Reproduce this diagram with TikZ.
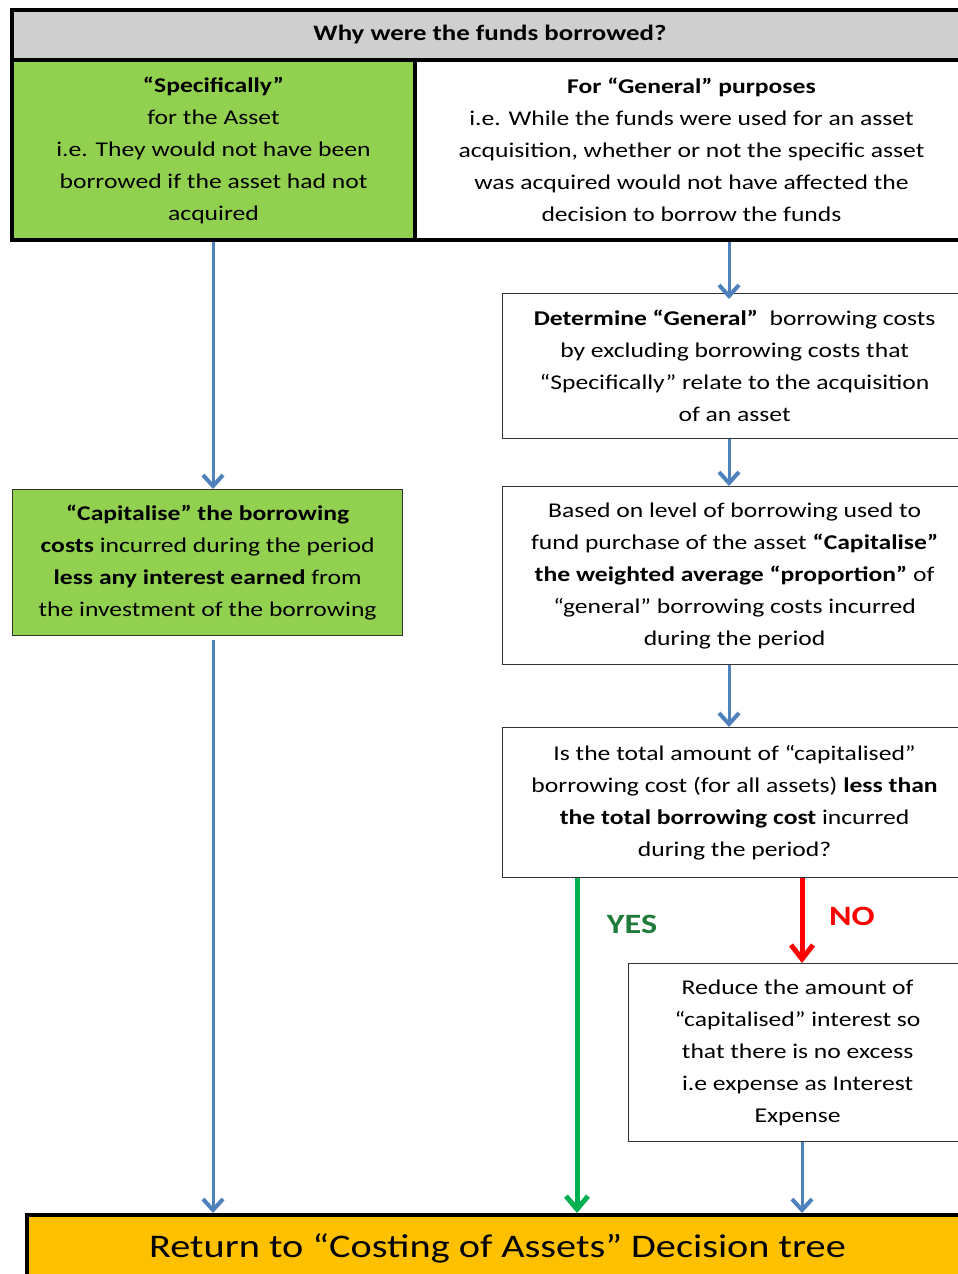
\documentclass[tikz,border=0pt]{standalone}
\usepackage{fontspec}
\setmainfont{Carlito}[FakeStretch=1.22]
\usetikzlibrary{arrows.meta}
\definecolor{gfill}{HTML}{92D050}
\definecolor{hgray}{HTML}{CFCFCF}
\definecolor{ablue}{HTML}{4F81BD}
\definecolor{agreen}{HTML}{00B050}
\definecolor{ygreen}{HTML}{1E7B3A}
\definecolor{ared}{HTML}{FF0000}
\definecolor{ofill}{HTML}{FFC000}
\begin{document}
\begin{tikzpicture}[x=1pt,y=-1pt,
  base/.style={inner sep=0pt, anchor=north west, align=center, font=\fontsize{21}{32}\selectfont},
  thickbox/.style={base, draw=black, line width=4pt},
  thinbox/.style={base, draw=black!80, line width=1.2pt},
  bluearrow/.style={draw=ablue, line width=3pt, -{Straight Barb[length=11pt,width=20pt,line width=4pt]}},
  greenarrow/.style={draw=agreen, line width=5pt, -{Straight Barb[length=13pt,width=22pt,line width=5pt]}},
  redarrow/.style={draw=ared, line width=5pt, -{Straight Barb[length=14pt,width=22pt,line width=5pt]}},
  lbl/.style={font=\fontsize{28}{32}\selectfont\bfseries, inner sep=0pt}
]
\useasboundingbox (0,0) rectangle (958,1274);
\clip (0,0) rectangle (958,1274);
\fill[white] (0,0) rectangle (958,1274);

\node[thickbox, fill=hgray, minimum width=956pt, minimum height=50pt, font=\fontsize{22}{32}\selectfont\bfseries] (why) at (10,8) {Why were the funds borrowed?};
\node[thickbox, fill=gfill, minimum width=403pt, minimum height=180pt] (spec) at (10,58)
  {\textbf{“Specifically”}\\for the Asset\\i.e. They would not have been\\borrowed if the asset had not\\acquired};
\node[thickbox, fill=white, minimum width=553pt, minimum height=180pt] (gen) at (413,58)
  {\textbf{For “General” purposes}\\i.e. While the funds were used for an asset\\acquisition, whether or not the specific asset\\was acquired would not have affected the\\decision to borrow the funds};

\node[thinbox, fill=white, minimum width=464pt, minimum height=145pt] (det) at (502,293)
  {\textbf{Determine “General”}\ \ borrowing costs\\by excluding borrowing costs that\\“Specifically” relate to the acquisition\\of an asset};
\node[thinbox, fill=white, minimum width=464pt, minimum height=178pt] (based) at (502,486)
  {Based on level of borrowing used to\\fund purchase of the asset \textbf{“Capitalise”}\\\textbf{the weighted average “proportion”} of\\“general” borrowing costs incurred\\during the period};
\node[thinbox, fill=white, minimum width=464pt, minimum height=150pt] (isq) at (502,727)
  {Is the total amount of “capitalised”\\borrowing cost (for all assets) \textbf{less than}\\\textbf{the total borrowing cost} incurred\\during the period?};
\node[thinbox, fill=white, minimum width=338pt, minimum height=178pt] (red) at (628,963)
  {Reduce the amount of\\“capitalised” interest so\\that there is no excess\\i.e expense as Interest\\Expense};
\node[thinbox, fill=gfill, minimum width=390pt, minimum height=146pt] (cap) at (12,489)
  {\textbf{“Capitalise” the borrowing}\\\textbf{costs} incurred during the period\\\textbf{less any interest earned} from\\the investment of the borrowing};
\node[thickbox, fill=ofill, minimum width=941pt, minimum height=66pt, font=\fontsize{33}{36}\selectfont] (ret) at (25,1213)
  {Return to “Costing of Assets” Decision tree};

\coordinate (xl) at (213,0);
\coordinate (xr) at (729,0);
\coordinate (xy) at (577,0);
\coordinate (xn) at (802,0);
\coordinate (capgap) at (213,640);

\draw[bluearrow] (xl |- spec.south) -- (xl |- cap.north);
\draw[bluearrow] (capgap) -- (xl |- ret.north);
\draw[bluearrow] (xr |- gen.south) -- ([yshift=-6pt]xr |- det.north);
\draw[bluearrow] (xr |- det.south) -- (xr |- based.north);
\draw[bluearrow] (xr |- based.south) -- (xr |- isq.north);
\draw[greenarrow] (xy |- isq.south) -- (xy |- ret.north);
\draw[redarrow] (xn |- isq.south) -- (xn |- red.north);
\draw[bluearrow] (xn |- red.south) -- (xn |- ret.north);

\node[lbl, text=ygreen] (yes) at (632,924) {YES};
\node[lbl, text=ared] (no) at (852,916) {NO};
\end{tikzpicture}
\end{document}
